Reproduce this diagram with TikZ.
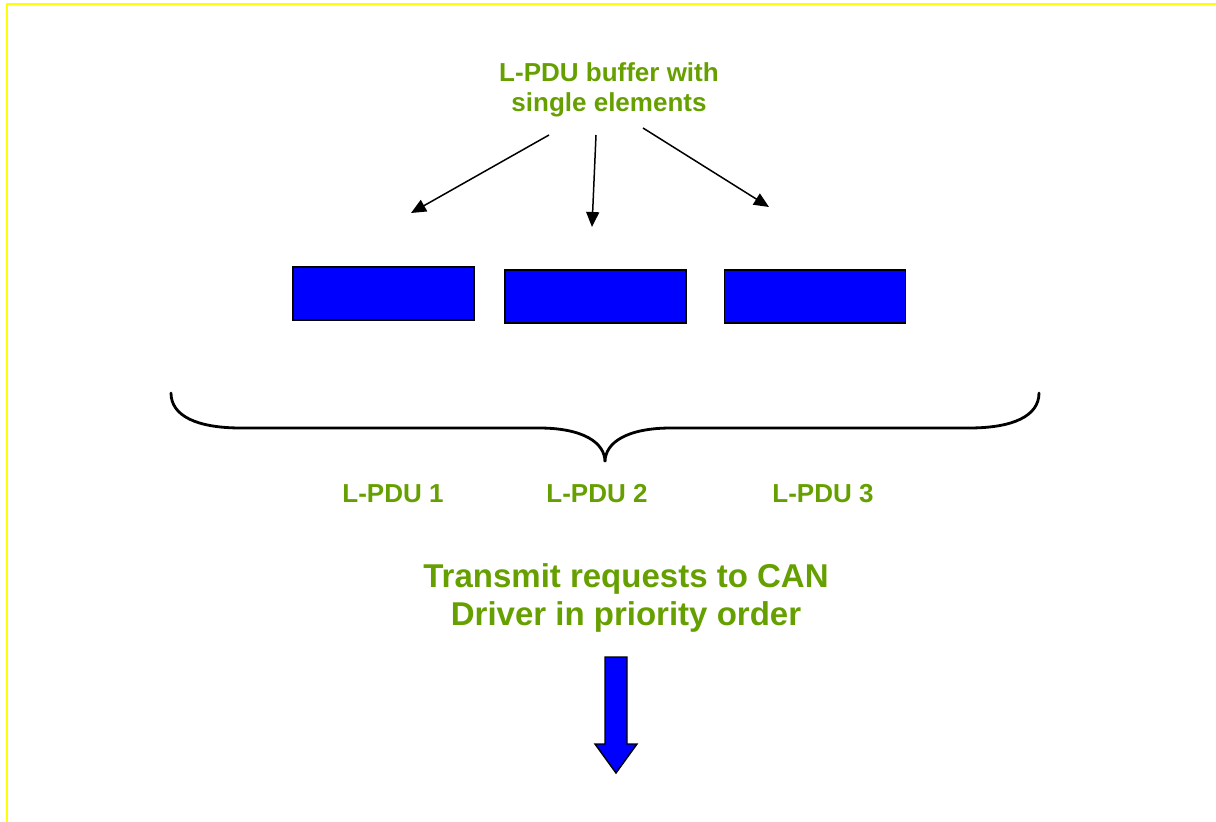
\documentclass[tikz,border=0pt]{standalone}
\usepackage{fontspec}
\setmainfont{Liberation Sans}
\usetikzlibrary{arrows.meta}
\definecolor{lgreen}{RGB}{102,160,0}
\definecolor{boxblue}{RGB}{0,0,255}
\definecolor{frameyellow}{RGB}{255,255,0}
\begin{document}
\begin{tikzpicture}[x=1pt,y=-1pt,
  lbl/.style={font=\bfseries\fontsize{26}{30}\selectfont, text=lgreen, align=center, inner sep=0pt},
  biglbl/.style={font=\bfseries\fontsize{33}{38}\selectfont, text=lgreen, align=center, inner sep=0pt},
  pdubox/.style={draw=black, line width=1.6pt, fill=boxblue, minimum width=181pt, minimum height=53pt, inner sep=0pt},
  conn/.style={line width=1.5pt, -{Triangle[length=15pt,width=13pt]}},
  bracestyle/.style={line width=2.8pt, line cap=round},
  bigarrow/.style={draw=black, line width=1.4pt, fill=boxblue, line join=miter},
]
\useasboundingbox (0,0) rectangle (1216,822);
\draw[frameyellow, line width=2.5pt] (7,822) -- (7,4) -- (1216,4);

% title
\node[lbl] (title) at (609,90) {L-PDU buffer with\\single elements};

% boxes
\node[pdubox] (b1) at (383.5,293.5) {};
\node[pdubox] (b2) at (595.5,296.5) {};
\node[pdubox] (b3) at (815,296.5) {};

% arrows from title
\coordinate (s1) at (549,135);
\coordinate (e1) at (411,213);
\coordinate (s2) at (596,135);
\coordinate (e2) at (592,227);
\coordinate (s3) at (643,128);
\coordinate (e3) at (769,207);
\draw[conn] (s1) -- (e1);
\draw[conn] (s2) -- (e2);
\draw[conn] (s3) -- (e3);

% brace
\coordinate (bl) at (171,393);
\coordinate (bt) at (605,462);
\coordinate (br) at (1039,393);
\draw[bracestyle] (bl) .. controls (171,416) and (197,428) .. (241,428) -- (539,428)
  .. controls (582,428) and (605,442) .. (bt)
  .. controls (605,442) and (628,428) .. (671,428) -- (969,428)
  .. controls (1013,428) and (1039,416) .. (br);

% labels
\node[lbl] (p1) at (393,494) {L-PDU 1};
\node[lbl] (p2) at (597,494) {L-PDU 2};
\node[lbl] (p3) at (823,494) {L-PDU 3};

\node[biglbl] (tx) at (626,598) {Transmit requests to CAN\\Driver in priority order};

% big arrow
\draw[bigarrow] (605,657) -- (627,657) -- (627,744) -- (637,744) -- (616,773) -- (595,744) -- (605,744) -- cycle;
\end{tikzpicture}
\end{document}
